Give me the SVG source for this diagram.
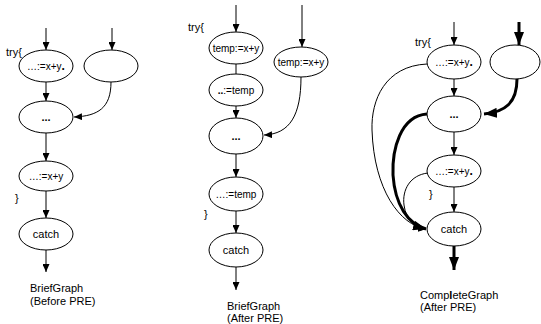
<svg xmlns="http://www.w3.org/2000/svg" width="541" height="324" viewBox="0 0 541 324">
<defs>
<marker id="a" markerUnits="userSpaceOnUse" markerWidth="8" markerHeight="7" refX="8" refY="3.5" orient="auto"><path d="M0,0 L8,3.5 L0,7 z" fill="#000"/></marker>
<marker id="b" markerUnits="userSpaceOnUse" markerWidth="13" markerHeight="10" refX="13" refY="5" orient="auto"><path d="M0,0 L13,5 L0,10 z" fill="#000"/></marker>
<style>
.n{fill:#fff;stroke:#000;stroke-width:1}
.t{font-family:"Liberation Sans",Arial,sans-serif;font-size:11px;fill:#000}
.s{font-size:10px}
.c{text-anchor:middle}
.e{fill:none;stroke:#000;stroke-width:1}
.ea{marker-end:url(#a)}
.k{fill:none;stroke:#000;stroke-width:3;marker-end:url(#b)}
</style>
</defs>
<rect width="541" height="324" fill="#fff"/>

<g id="connectors">
<!-- graph 1 -->
<path class="e ea" d="M46 28 L46 50"/>
<path class="e ea" d="M112 28 L112 50"/>
<path class="e ea" d="M46 82 L46 101"/>
<path class="e ea" d="M111 82 C111 108 98 116 74 117"/>
<path class="e ea" d="M46 133 L46 161"/>
<path class="e ea" d="M46 191 L46 218"/>
<path class="e ea" d="M46 250 L46 272"/>
<!-- graph 2 -->
<path class="e ea" d="M236 5 L236 32"/>
<path class="e" d="M236 64 L236 74"/>
<path class="e ea" d="M236 106 L236 118"/>
<path class="e ea" d="M302 5 L302 47"/>
<path class="e ea" d="M301 77 C301 115 290 134 264 135"/>
<path class="e ea" d="M236 154 L236 177"/>
<path class="e ea" d="M236 211 L236 233"/>
<path class="e ea" d="M236 267 L236 290"/>
<!-- graph 3 -->
<path class="e ea" d="M454 22 L454 45"/>
<path class="k" d="M519 22 L519 45"/>
<path class="e ea" d="M454 79 L454 96"/>
<path class="k" d="M517 79 C517 103 505 112 484 114"/>
<path class="e ea" d="M454 132 L454 155"/>
<path class="e ea" d="M454 187 L454 212"/>
<path class="k" d="M454 246 L454 270"/>
<path class="e ea" d="M427 64 C385 66 371 100 372 130 C374 190 400 225 426 229"/>
<path class="k" d="M427 114 C400 116 392 150 393 175 C395 205 408 224 426 229"/>
<path class="e ea" d="M428 173 C410 175 402 190 404 205 C406 220 415 228 426 229"/>
</g>

<g id="g1-a"><ellipse class="n" cx="46" cy="66" rx="27" ry="16"/><text class="t s c" x="46" y="70">…:=x+y<tspan font-weight="bold" font-size="12px">.</tspan></text></g>
<g id="g1-b"><ellipse class="n" cx="111" cy="66" rx="27" ry="16"/></g>
<g id="g1-c"><ellipse class="n" cx="46" cy="117" rx="27" ry="16"/><text class="t c" x="46" y="121" font-weight="bold">...</text></g>
<g id="g1-d"><ellipse class="n" cx="46" cy="176" rx="27" ry="15"/><text class="t s c" x="46" y="180">…:=x+y</text></g>
<g id="g1-e"><ellipse class="n" cx="46" cy="234" rx="27" ry="16"/><text class="t c" x="46" y="238">catch</text></g>
<g id="g1-labels">
<text class="t" x="6" y="56">try{</text>
<text class="t" x="15" y="202">}</text>
<text class="t" x="30" y="292">BriefGraph</text>
<text class="t" x="30" y="305">(Before PRE)</text>
</g>

<g id="g2-a"><ellipse class="n" cx="236" cy="48" rx="27" ry="16"/><text class="t s c" x="236" y="52">temp:=x+y</text></g>
<g id="g2-b"><ellipse class="n" cx="236" cy="90" rx="27" ry="16"/><text class="t s c" x="236" y="94"><tspan font-weight="bold">..</tspan>:=temp</text></g>
<g id="g2-c"><ellipse class="n" cx="236" cy="136" rx="27" ry="18"/><text class="t c" x="236" y="140" font-weight="bold">...</text></g>
<g id="g2-r"><ellipse class="n" cx="301" cy="62" rx="27" ry="15"/><text class="t s c" x="301" y="66">temp:=x+y</text></g>
<g id="g2-d"><ellipse class="n" cx="236" cy="194" rx="27" ry="17"/><text class="t s c" x="236" y="198">…:=temp</text></g>
<g id="g2-e"><ellipse class="n" cx="236" cy="250" rx="27" ry="17"/><text class="t c" x="236" y="254">catch</text></g>
<g id="g2-labels">
<text class="t" x="188" y="31">try{</text>
<text class="t" x="204" y="218">}</text>
<text class="t" x="227" y="310">BriefGraph</text>
<text class="t" x="227" y="322">(After PRE)</text>
</g>

<g id="g3-a"><ellipse class="n" cx="454" cy="62" rx="27" ry="17"/><text class="t s c" x="454" y="66">…:=x+y<tspan font-weight="bold" font-size="12px">.</tspan></text></g>
<g id="g3-b"><ellipse class="n" cx="515" cy="62" rx="25" ry="17"/></g>
<g id="g3-c"><ellipse class="n" cx="454" cy="114" rx="27" ry="18"/><text class="t c" x="454" y="118" font-weight="bold">...</text></g>
<g id="g3-d"><ellipse class="n" cx="454" cy="171" rx="27" ry="16"/><text class="t s c" x="454" y="175">…:=x+y<tspan font-weight="bold" font-size="12px">.</tspan></text></g>
<g id="g3-e"><ellipse class="n" cx="454" cy="229" rx="27" ry="17"/><text class="t c" x="454" y="233">catch</text></g>
<g id="g3-labels">
<text class="t" x="415" y="46">try{</text>
<text class="t" x="429" y="198">}</text>
<text class="t" x="420" y="299">Comp<tspan font-weight="bold">l</tspan>eteGraph</text>
<text class="t" x="420" y="311">(After PRE)</text>
</g>
</svg>
